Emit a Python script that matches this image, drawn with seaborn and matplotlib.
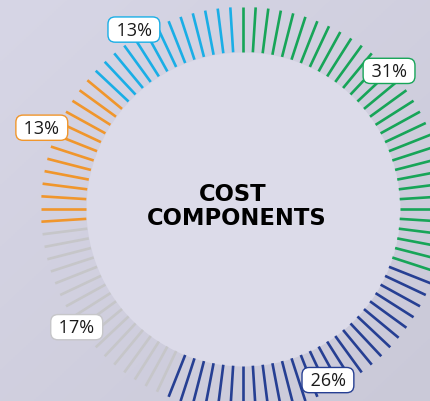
import numpy as np
import pandas as pd
import matplotlib
matplotlib.use("Agg")
import matplotlib.pyplot as plt
import seaborn as sns

# data
components = ["A", "B", "C", "D", "E"]
shares = [31, 26, 17, 13, 13]
labels = ["31%", "26%", "17%", "13%", "13%"]
colors = ["#17a558", "#263f93", "#c6c6c9", "#f0962c", "#1aaee6"]

# label placement (degrees clockwise from top, radius in px)
label_angle = [46.6, 153.6, 234.6, 292.0, 328.7]
label_r = [201, 191, 204, 217, 210]

sns.set_style("white")
plt.rcParams["font.family"] = ["Open Sans", "DejaVu Sans"]

# one tick per percent
df = pd.DataFrame({
    "comp": np.repeat(components, shares),
    "color": np.repeat(colors, shares),
})
df["theta"] = np.deg2rad(np.arange(len(df)) * 360.0 / len(df))

W, H = 430, 402
fig = plt.figure(figsize=(W / 100, H / 100), dpi=100)

# background gradient
bg = fig.add_axes([0, 0, 1, 1])
yy, xx = np.mgrid[0:1:200j, 0:1:200j]
t = 0.5 * xx + 0.5 * yy
c0 = np.array([0xd7, 0xd6, 0xe6]) / 255
c1 = np.array([0xca, 0xc9, 0xd8]) / 255
img = c0[None, None, :] * (1 - t[..., None]) + c1[None, None, :] * t[..., None]
bg.imshow(img, extent=[0, 1, 0, 1], aspect="auto", origin="upper")
bg.axis("off")

cx, cy, R = 243, 402 - 210, 220
ax = fig.add_axes([(cx - R) / W, (cy - R) / H, 2 * R / W, 2 * R / H], projection="polar")
ax.set_theta_zero_location("N")
ax.set_theta_direction(-1)
ax.set_ylim(0, R)
ax.patch.set_alpha(0)
ax.axis("off")

# inner lighter disc
th = np.linspace(0, 2 * np.pi, 400)
ax.fill_between(th, 0, 157, color="#dcdbe9", lw=0, zorder=1)

ax.vlines(df["theta"], 157, 202, colors=df["color"], lw=1.9, zorder=2, clip_on=False)

for lab, col, a, r in zip(labels, colors, label_angle, label_r):
    ax.text(np.deg2rad(a), r, " " + lab + " ", ha="center", va="center", fontsize=13,
            color="#1a1a1a", zorder=5, clip_on=False,
            bbox=dict(boxstyle="round,pad=0.2,rounding_size=0.4", fc="white", ec=col, lw=1))

fig.text(233 / W, 1 - 195 / H, "COST", ha="center", va="center", fontsize=16.3,
         fontweight="bold", family="DejaVu Sans", color="black")
fig.text(236.5 / W, 1 - 218.5 / H, "COMPONENTS", ha="center", va="center", fontsize=16.3,
         fontweight="bold", family="DejaVu Sans", color="black")

fig.savefig("out.png", dpi=100)
